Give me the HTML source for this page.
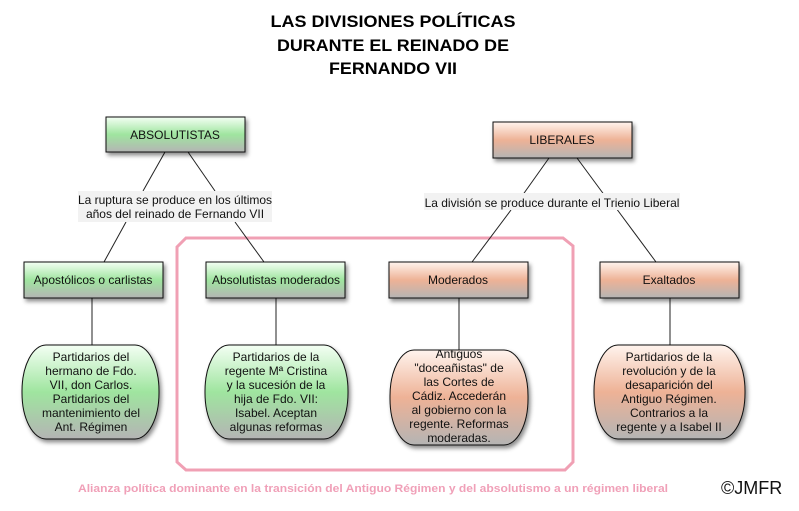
<!DOCTYPE html>
<html><head><meta charset="utf-8"><style>
html,body{margin:0;padding:0;background:#fff;}
svg{display:block;}
text{font-family:"Liberation Sans",Arial,sans-serif;}
</style></head><body>
<svg width="799" height="511" viewBox="0 0 799 511" xmlns="http://www.w3.org/2000/svg">
<defs>
<linearGradient id="g" x1="0" y1="0" x2="0" y2="1">
<stop offset="0" stop-color="#f4fff4"/><stop offset="0.5" stop-color="#9fe59f"/><stop offset="1" stop-color="#b4b4b4"/></linearGradient>
<linearGradient id="o" x1="0" y1="0" x2="0" y2="1">
<stop offset="0" stop-color="#fff4ee"/><stop offset="0.5" stop-color="#eeb296"/><stop offset="1" stop-color="#b4b4b4"/></linearGradient>
<filter id="sh" x="-20%" y="-20%" width="150%" height="150%"><feDropShadow dx="2" dy="3" stdDeviation="2" flood-color="#000" flood-opacity="0.45"/></filter>
</defs>
<g font-weight="bold" font-size="17" text-anchor="middle" fill="#000">
<text x="393" y="27" textLength="245" lengthAdjust="spacingAndGlyphs">LAS DIVISIONES POLÍTICAS</text>
<text x="393" y="51" textLength="232" lengthAdjust="spacingAndGlyphs">DURANTE EL REINADO DE</text>
<text x="393" y="74" textLength="128" lengthAdjust="spacingAndGlyphs">FERNANDO VII</text>
</g>
<path d="M186,238 L563,238 L573,246 L573,462 L565,470 L186,470 L177,462 L177,247 Z" fill="none" stroke="#f0a0b4" stroke-width="3"/>
<g stroke="#222" stroke-width="1" fill="none">
<line x1="165" y1="152" x2="143" y2="191"/><line x1="188" y1="152" x2="215" y2="191"/>
<line x1="126" y1="222" x2="104" y2="262"/><line x1="235" y1="222" x2="264" y2="262"/>
<line x1="549" y1="158" x2="522" y2="196"/><line x1="577" y1="158" x2="605" y2="196"/>
<line x1="511" y1="210" x2="472" y2="262"/><line x1="616" y1="208" x2="656" y2="262"/>
<line x1="92" y1="298" x2="92" y2="346"/><line x1="276" y1="298" x2="276" y2="346"/>
<line x1="459" y1="298" x2="459" y2="350"/><line x1="670" y1="298" x2="670" y2="346"/>
</g>
<rect x="78" y="191" width="194" height="31" fill="#f2f2f2"/>
<rect x="424" y="193" width="256" height="17" fill="#f2f2f2"/>
<g font-size="12" text-anchor="middle" fill="#111">
<text x="175" y="204">La ruptura se produce en los últimos</text>
<text x="175" y="218">años del reinado de Fernando VII</text>
<text x="552" y="207">La división se produce durante el Trienio Liberal</text>
</g>
<g stroke="#111" stroke-width="1" filter="url(#sh)">
<rect x="106" y="117" width="139" height="35" fill="url(#g)"/>
<rect x="493" y="122" width="139" height="36" fill="url(#o)"/>
<rect x="24" y="262" width="139" height="36" fill="url(#g)"/>
<rect x="206" y="262" width="139" height="36" fill="url(#g)"/>
<rect x="389" y="262" width="139" height="36" fill="url(#o)"/>
<rect x="600" y="262" width="139" height="36" fill="url(#o)"/>
<rect x="22" y="345" width="137" height="94" rx="24" ry="46" fill="url(#g)"/>
<rect x="205" y="345" width="143" height="94" rx="24" ry="46" fill="url(#g)"/>
<rect x="390" y="350" width="138" height="95" rx="24" ry="46" fill="url(#o)"/>
<rect x="594" y="345" width="151" height="94" rx="24" ry="46" fill="url(#o)"/>
</g>
<g font-size="12" text-anchor="middle" fill="#111">
<text x="175" y="139">ABSOLUTISTAS</text>
<text x="562" y="144">LIBERALES</text>
<text x="93" y="284">Apostólicos o carlistas</text>
<text x="276" y="284">Absolutistas moderados</text>
<text x="458" y="284">Moderados</text>
<text x="669" y="284">Exaltados</text>
<text x="91" y="361">Partidarios del</text>
<text x="91" y="375">hermano de Fdo.</text>
<text x="91" y="389">VII, don Carlos.</text>
<text x="91" y="403">Partidarios del</text>
<text x="91" y="417">mantenimiento del</text>
<text x="91" y="431">Ant. Régimen</text>
<text x="276" y="361">Partidarios de la</text>
<text x="276" y="375">regente Mª Cristina</text>
<text x="276" y="389">y la sucesión de la</text>
<text x="276" y="403">hija de Fdo. VII:</text>
<text x="276" y="417">Isabel. Aceptan</text>
<text x="276" y="431">algunas reformas</text>
<text x="459" y="358">Antiguos</text>
<text x="459" y="372">"doceañistas" de</text>
<text x="459" y="386">las Cortes de</text>
<text x="459" y="400">Cádiz. Accederán</text>
<text x="459" y="414">al gobierno con la</text>
<text x="459" y="428">regente. Reformas</text>
<text x="459" y="442">moderadas.</text>
<text x="669" y="361">Partidarios de la</text>
<text x="669" y="375">revolución y de la</text>
<text x="669" y="389">desaparición del</text>
<text x="669" y="403">Antiguo Régimen.</text>
<text x="669" y="417">Contrarios a la</text>
<text x="669" y="431">regente y a Isabel II</text>
</g>
<text x="373" y="492" font-size="11" font-weight="bold" fill="#f0a0b8" text-anchor="middle" textLength="590" lengthAdjust="spacingAndGlyphs">Alianza política dominante  en la transición del Antiguo Régimen y del absolutismo a un régimen liberal</text>
<text x="721" y="494" font-size="18" fill="#111">©JMFR</text>
</svg>
</body></html>
